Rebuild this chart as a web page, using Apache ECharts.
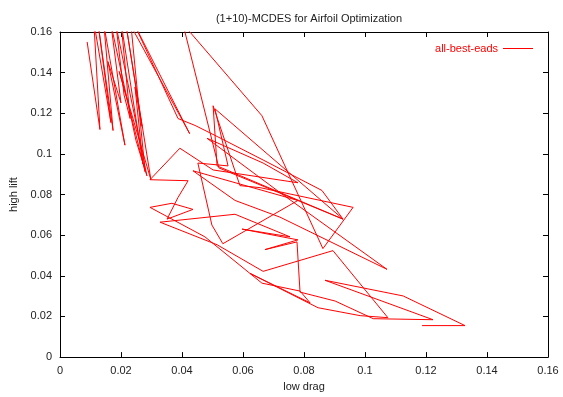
<!DOCTYPE html>
<html>
<head>
<meta charset="utf-8">
<script src="https://cdn.jsdelivr.net/npm/echarts@6/dist/echarts.min.js"></script>
<style>
html,body{margin:0;padding:0;background:#fff;}
#chart{width:563px;height:397px;}
</style>
</head>
<body>
<div id="chart"></div>
<script>
var chartTitle = "(1+10)-MCDES for Airfoil Optimization";
var xAxisName = "low drag";
var yAxisName = "high lift";
var seriesName = "all-best-eads";

var dragValues = [
  0.0089,0.0131,0.0111,0.0167,0.0125,0.0174,0.0144,0.0213,0.0157,0.0200,
  0.0167,0.0249,0.0285,0.0184,0.0210,0.0230,0.0200,0.0272,0.0246,0.0269,
  0.0216,0.0298,0.0194,0.0223,0.0279,0.0233,0.0425,0.0240,0.0387,0.0443,
  0.0515,0.0666,0.0859,0.0928,0.0515,0.0502,0.0590,0.0656,0.0961,0.0862,
  0.0662,0.0403,0.0521,0.0928,0.0508,0.0551,0.0452,0.0498,0.0534,0.0780,
  0.0436,0.0574,0.0721,0.1072,0.0721,0.0482,0.0666,0.0780,0.0502,0.0393,
  0.0295,0.0420,0.0387,0.0351,0.0436,0.0367,0.0295,0.0475,0.0662,0.0787,
  0.0820,0.0623,0.0846,0.0984,0.1075,0.0895,0.0666,0.0515,0.0328,0.0574,
  0.0754,0.0597,0.0780,0.0672,0.0777,0.0787,0.0902,0.1027,0.1223,0.0869,
  0.1125,0.1328,0.1187
];
var liftValues = [
  0.1551,0.1120,0.1648,0.1154,0.1639,0.1115,0.1634,0.1043,0.1455,0.1251,
  0.1639,0.1067,0.0892,0.1629,0.1290,0.1174,0.1648,0.0950,0.1329,0.1135,
  0.1639,0.0873,0.1406,0.1251,0.0912,0.1629,0.1100,0.1650,0.1174,0.1140,
  0.1086,0.0970,0.0820,0.0679,0.0941,0.1237,0.0844,0.0834,0.0737,0.0534,
  0.1188,0.1640,0.0931,0.0679,0.1222,0.0941,0.0955,0.0650,0.0558,0.0771,
  0.0917,0.0771,0.0689,0.0432,0.0810,0.1077,0.0955,0.0858,0.0921,0.1028,
  0.0873,0.0868,0.0786,0.0679,0.0727,0.0757,0.0737,0.0592,0.0364,0.0325,
  0.0267,0.0412,0.0243,0.0204,0.0194,0.0524,0.0422,0.0553,0.0664,0.0703,
  0.0592,0.0630,0.0577,0.0529,0.0567,0.0320,0.0276,0.0189,0.0184,0.0378,
  0.0301,0.0155,0.0155
];

var xMin = 0, xMax = 0.16, xStep = 0.02;
var yMin = 0, yMax = 0.16, yStep = 0.02;

var points = dragValues.map(function (d, i) { return [d, liftValues[i]]; });

var FONT = "'Liberation Sans', Arial, sans-serif";
var txt = '#222';

var chart = echarts.init(document.getElementById('chart'), null, {renderer: 'canvas'});

function axisBase(show) {
  return {
    axisLine: {show: true, onZero: false, lineStyle: {color: '#000', width: 1}},
    axisTick: {show: true, inside: true, length: 5, lineStyle: {color: '#000'}},
    axisLabel: {show: show, color: txt, fontFamily: FONT, fontSize: 11, margin: 8},
    splitLine: {show: false}
  };
}

var xBottom = Object.assign(axisBase(true), {
  type: 'value', position: 'bottom', min: xMin, max: xMax, interval: xStep,
  name: xAxisName, nameLocation: 'middle', nameGap: 20,
  nameTextStyle: {color: txt, fontFamily: FONT, fontSize: 11}
});
var xTop = Object.assign(axisBase(false), {
  type: 'value', position: 'top', min: xMin, max: xMax, interval: xStep
});
var yLeft = Object.assign(axisBase(true), {
  type: 'value', position: 'left', min: yMin, max: yMax, interval: yStep,
  name: yAxisName, nameLocation: 'middle', nameGap: 40, nameRotate: 90,
  nameTextStyle: {color: txt, fontFamily: FONT, fontSize: 11}
});
var yRight = Object.assign(axisBase(false), {
  type: 'value', position: 'right', min: yMin, max: yMax, interval: yStep
});

chart.setOption({
  animation: false,
  backgroundColor: '#fff',
  title: {
    text: chartTitle, left: 304, top: 8, textAlign: 'center',
    textStyle: {color: txt, fontFamily: FONT, fontSize: 11, fontWeight: 'normal'}
  },
  legend: {
    right: 25, top: 38, align: 'right', icon: 'rect',
    itemWidth: 30, itemHeight: 1,
    textStyle: {color: '#ff0000', fontFamily: FONT, fontSize: 11},
    data: [seriesName]
  },
  grid: {left: 60, right: 15, top: 32, bottom: 35, containLabel: false},
  xAxis: [xBottom, xTop],
  yAxis: [yLeft, yRight],
  series: [{
    name: seriesName, type: 'line', data: points,
    xAxisIndex: 0, yAxisIndex: 0,
    symbol: 'none', showSymbol: false, clip: true,
    lineStyle: {color: '#ff0000', width: 1},
    itemStyle: {color: '#ff0000'}
  }]
});
</script>
</body>
</html>
